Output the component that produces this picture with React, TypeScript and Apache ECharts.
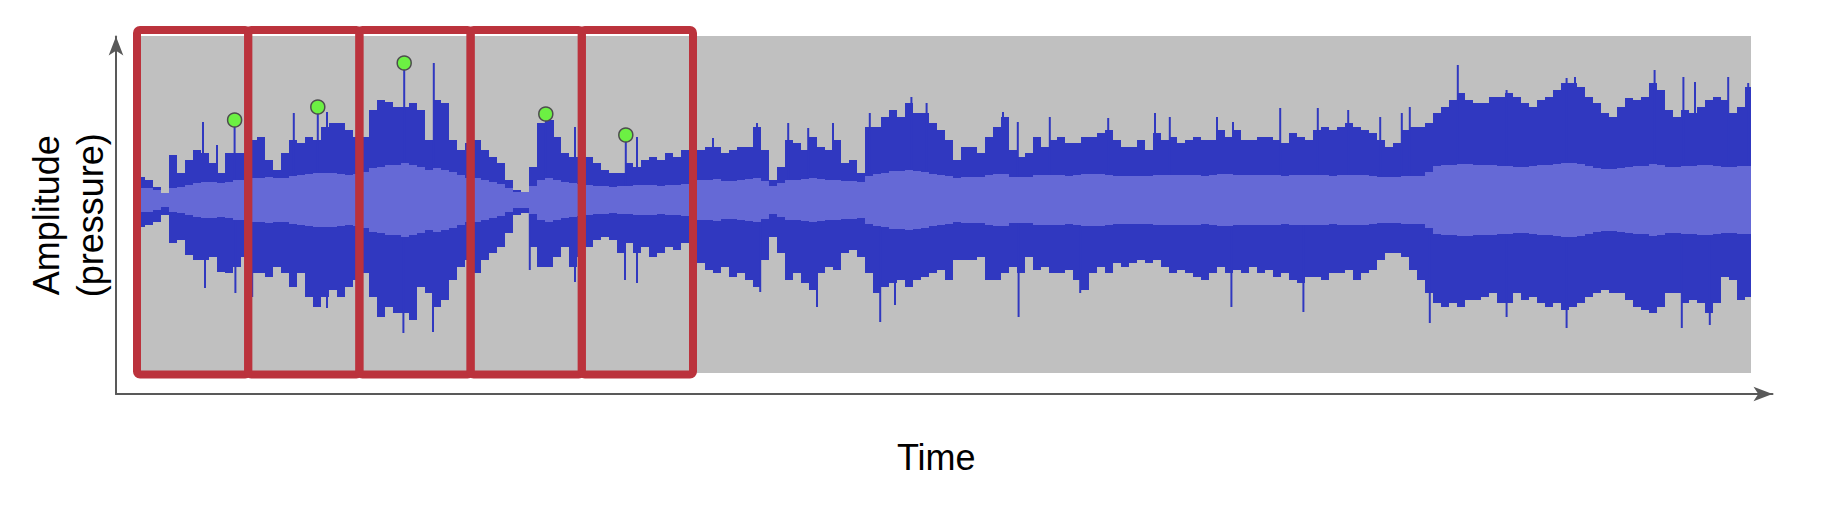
import React, { useEffect, useRef } from "react";
import * as echarts from "echarts";

// Waveform envelope, one value per time step (amplitude above / below zero)
const peakTop = [
  23, 20, 13, 7, 45, 27, 40, 50, 47, 37, 27, 47, 47, 47, 60, 63, 40, 30, 47, 60, 57, 63, 60, 73, 77, 77, 70, 63, 63, 90, 100, 98, 93, 93, 97,
  90, 60, 100, 97, 60, 50, 57, 60, 50, 43, 37, 20, 10, 8, 33, 77, 80, 63, 47, 43, 43, 43, 37, 30, 27, 27, 37, 33, 40, 43, 40, 47, 43, 50,
  47, 50, 53, 53, 47, 50, 53, 53, 73, 50, 20, 33, 60, 57, 50, 63, 53, 50, 60, 37, 40, 27, 73, 73, 83, 90, 83, 97, 87, 87, 77, 70, 60, 40, 53,
  53, 47, 63, 73, 83, 50, 43, 47, 63, 53, 60, 63, 57, 57, 63, 63, 67, 70, 60, 53, 53, 60, 50, 67, 60, 63, 57, 60, 63, 60, 60, 70, 63, 70,
  60, 60, 63, 63, 60, 57, 67, 63, 60, 70, 73, 70, 73, 77, 73, 70, 67, 60, 53, 57, 70, 73, 73, 77, 87, 93, 100, 107, 100, 97, 97, 103, 103, 107, 103,
  97, 93, 100, 103, 110, 117, 117, 113, 103, 97, 87, 83, 93, 102, 100, 103, 117, 110, 90, 83, 90, 87, 93, 100, 103, 100, 87, 93, 113,
];
const peakBottom = [
  27, 25, 22, 15, 43, 40, 55, 60, 60, 57, 72, 73, 67, 57, 73, 73, 77, 67, 73, 87, 73, 97, 107, 97, 90, 97, 87, 80, 73, 97, 117, 107, 113, 113, 120,
  87, 93, 107, 100, 80, 67, 60, 73, 60, 53, 47, 33, 15, 13, 47, 67, 67, 57, 47, 67, 57, 47, 40, 37, 40, 53, 43, 53, 47, 57, 53, 47, 50, 43,
  60, 63, 70, 73, 67, 77, 73, 80, 87, 60, 37, 53, 80, 73, 83, 90, 73, 67, 70, 53, 50, 57, 73, 93, 87, 83, 80, 87, 80, 77, 73, 70, 80, 60, 60,
  60, 57, 80, 80, 73, 67, 73, 57, 70, 67, 73, 73, 70, 80, 90, 73, 67, 73, 63, 67, 63, 60, 63, 60, 67, 73, 70, 73, 77, 80, 73, 67, 73, 70,
  73, 67, 73, 70, 77, 73, 80, 83, 77, 77, 80, 73, 73, 70, 80, 73, 70, 60, 53, 53, 57, 70, 80, 93, 103, 107, 103, 107, 100, 100, 97, 93, 103, 103, 93,
  100, 97, 103, 107, 103, 110, 107, 103, 97, 93, 90, 93, 93, 100, 107, 110, 113, 107, 93, 93, 103, 100, 103, 113, 103, 77, 80, 100, 97,
];
const rmsLevel = [
  12, 12, 10, 7, 12, 13, 15, 17, 18, 18, 17, 18, 20, 20, 22, 22, 23, 22, 22, 24, 25, 26, 27, 27, 27, 26, 25, 26, 28, 32, 33, 35, 35, 37, 35,
  33, 30, 32, 30, 28, 25, 22, 22, 20, 18, 16, 12, 8, 8, 14, 20, 22, 20, 18, 17, 16, 15, 14, 14, 13, 14, 14, 15, 15, 15, 14, 15, 15, 16,
  20, 20, 20, 21, 19, 19, 20, 21, 22, 19, 14, 17, 20, 20, 21, 22, 21, 20, 20, 19, 19, 18, 24, 26, 27, 29, 29, 30, 29, 28, 26, 25, 24, 22, 23,
  23, 23, 25, 26, 26, 23, 23, 23, 25, 25, 25, 25, 24, 25, 26, 26, 26, 25, 24, 24, 24, 24, 24, 25, 25, 25, 25, 25, 25, 24, 25, 26, 26, 25,
  25, 25, 25, 25, 25, 24, 25, 25, 25, 25, 25, 24, 25, 25, 25, 25, 24, 23, 23, 23, 24, 24, 24, 28, 34, 35, 35, 36, 36, 35, 35, 35, 34, 34, 33,
  33, 34, 35, 35, 36, 37, 37, 36, 34, 32, 31, 31, 32, 33, 34, 34, 36, 35, 33, 33, 34, 34, 35, 35, 34, 33, 33, 34, 34,
];
// Thin peaks [time, amplitude]
const spikesUp = [
  [8.25, 78], [10.0, 55], [12.2, 80], [19.6, 87], [22.6, 93], [23.75, 88], [33.4, 137], [37.1, 137],
  [51.1, 86], [52.0, 80], [54.75, 73], [61.1, 65], [62.5, 63], [72.0, 62], [77.5, 77], [81.4, 77], [83.9, 72],
  [87.0, 77], [91.6, 87], [96.8, 103], [98.7, 97], [108.25, 88], [110.1, 78], [114.1, 83], [121.4, 82],
  [127.25, 87], [129.1, 83], [135.0, 83], [137.0, 78], [142.9, 92], [147.6, 92], [151.4, 90], [155.4, 83],
  [158.1, 87], [159.1, 93], [165.1, 135], [171.2, 110], [178.7, 122], [179.75, 123], [189.7, 130],
  [193.3, 123], [194.75, 118], [198.9, 123], [201.4, 117],
];
const spikesDown = [
  [8.5, 88], [12.3, 93], [14.4, 97], [23.75, 108], [33.3, 133], [37.0, 132], [49.1, 70], [54.75, 82],
  [61.0, 80], [62.5, 83], [77.9, 92], [85.0, 107], [92.9, 122], [94.75, 105], [110.2, 117], [117.9, 93],
  [136.8, 107], [145.8, 112], [161.6, 123], [171.2, 117], [178.7, 128], [193.1, 128], [196.6, 125],
];
// Highlighted peak of each frame
const framePeaks = [
  [12.2, 80], [22.6, 93], [33.4, 137], [51.1, 86], [61.1, 65],
];
// Frame boundaries (time)
const frameEdges = [0, 13.9, 27.8, 41.7, 55.6, 69.5];

const xAxisName = "Time";
const yAxisName = "Amplitude\n(pressure)";

const DARK = "#3038c0";
const LIGHT = "#6569d6";
const RED = "#bb323c";
const FRAME_TOP = 170;
const FRAME_BOTTOM = -174.5;

function stepData(arr: number[], sign: number) {
  const d = arr.map((v, i) => [i, sign * v]);
  d.push([arr.length, sign * arr[arr.length - 1]]);
  return d;
}

export default function App() {
  const ref = useRef<HTMLDivElement>(null);
  useEffect(() => {
    if (!ref.current) return;
    const chart = echarts.init(ref.current, undefined, { renderer: "svg" });
    const frames = frameEdges.slice(0, -1).map((s, i) => [s, frameEdges[i + 1]]);
    const envStyle = (color: string, z: number) => ({
      type: "line",
      xAxisIndex: 1,
      yAxisIndex: 1,
      step: "end",
      symbol: "none",
      silent: true,
      z,
      lineStyle: { width: 0, opacity: 0 },
      areaStyle: { color, opacity: 1 },
    });
    chart.setOption({
      animation: false,
      grid: [
        { left: 116, right: 51.5, top: 36.5, bottom: 120, show: false },
        {
          left: 137, right: 73, top: 36, bottom: 141, show: true,
          backgroundColor: "#c0c0c0", borderWidth: 0,
        },
      ],
      xAxis: [
        {
          gridIndex: 0, type: "value", min: 0, max: 1,
          axisLine: {
            show: true, onZero: false, symbol: ["none", "arrow"], symbolSize: [11, 19],
            lineStyle: { color: "#595959", width: 2 },
          },
          axisTick: { show: false }, axisLabel: { show: false }, splitLine: { show: false },
          name: xAxisName, nameLocation: "middle", nameGap: 43,
          nameTextStyle: {
            fontSize: 36, color: "#000", fontFamily: "Liberation Sans, Arial, sans-serif",
            lineHeight: 40, padding: [0, 16, 0, 0],
          },
        },
        {
          gridIndex: 1, type: "value", min: 0, max: 201.75, show: false,
        },
      ],
      yAxis: [
        {
          gridIndex: 0, type: "value", min: 0, max: 1,
          axisLine: {
            show: true, onZero: false, symbol: ["none", "arrow"], symbolSize: [11, 19],
            lineStyle: { color: "#595959", width: 2 },
          },
          axisTick: { show: false }, axisLabel: { show: false }, splitLine: { show: false },
          name: yAxisName, nameLocation: "middle", nameGap: 4, nameRotate: 90,
          nameTextStyle: {
            fontSize: 36, color: "#000", fontFamily: "Liberation Sans, Arial, sans-serif",
            lineHeight: 44, align: "center",
          },
        },
        {
          gridIndex: 1, type: "value", min: -173, max: 164, show: false,
        },
      ],
      series: [
        { ...envStyle(DARK, 2), data: stepData(peakTop, 1) },
        { ...envStyle(DARK, 2), data: stepData(peakBottom, -1) },
        {
          type: "bar",
          xAxisIndex: 1,
          yAxisIndex: 1,
          barWidth: 2,
          silent: true,
          z: 2,
          itemStyle: { color: DARK },
          data: [
            ...spikesUp.map(([t, v]) => [t, v]),
            ...spikesDown.map(([t, v]) => [t, -v]),
          ],
        },
        { ...envStyle(LIGHT, 3), data: stepData(rmsLevel, 1) },
        { ...envStyle(LIGHT, 3), data: stepData(rmsLevel, -1) },
        {
          type: "custom",
          xAxisIndex: 1,
          yAxisIndex: 1,
          z: 4,
          silent: true,
          clip: false,
          data: frames,
          renderItem: (_params: any, api: any) => {
            const p1 = api.coord([api.value(0), FRAME_TOP]);
            const p2 = api.coord([api.value(1), FRAME_BOTTOM]);
            return {
              type: "rect",
              shape: { x: p1[0], y: p1[1], width: p2[0] - p1[0], height: p2[1] - p1[1], r: 3 },
              style: { fill: "none", stroke: RED, lineWidth: 8, lineJoin: "round" },
            };
          },
        },
        {
          type: "scatter",
          xAxisIndex: 1,
          yAxisIndex: 1,
          z: 5,
          silent: true,
          symbolSize: 14,
          itemStyle: { color: "#6cf043", borderColor: "#4d4d4d", borderWidth: 1.5, opacity: 1 },
          data: framePeaks,
        },
      ],
    });
    return () => chart.dispose();
  }, []);
  return (
    <div
      ref={ref}
      style={{ position: "fixed", left: 0, top: 0, width: 1824, height: 514, background: "#fff" }}
    />
  );
}
